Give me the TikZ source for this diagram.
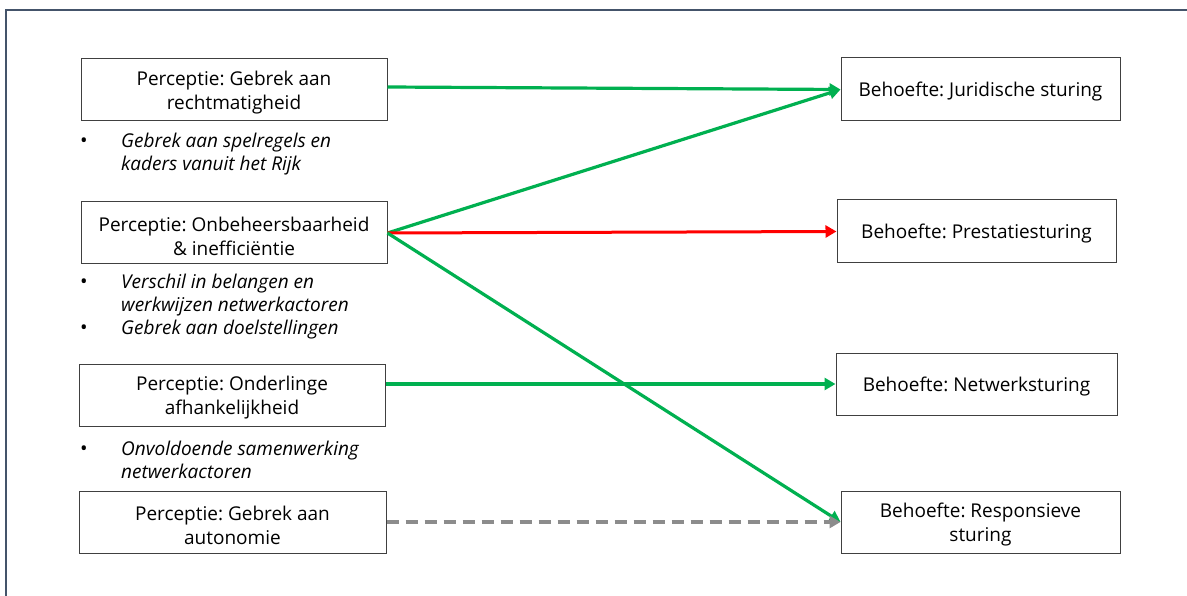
\documentclass[tikz,border=0pt]{standalone}
\usepackage{fontspec}
\setmainfont{Open Sans}
\usetikzlibrary{arrows.meta}
\definecolor{frameblue}{HTML}{44546A}
\definecolor{flowgreen}{HTML}{00B050}
\definecolor{flowred}{HTML}{FF0000}
\definecolor{flowgray}{HTML}{8C8C8C}
\tikzset{
  box/.style={draw=black!75, line width=1pt, minimum height=62pt, align=center,
    inner sep=0pt, font=\fontsize{19}{24}\selectfont,
    execute at begin node={\rule{0pt}{19.5pt}}},
  boxtext/.style={align=center, inner sep=0pt, font=\fontsize{19}{24}\selectfont},
  note/.style={anchor=north west, align=left, inner sep=0pt,
    font=\fontsize{19}{23}\selectfont\itshape},
  dot/.style={anchor=north west, inner sep=0pt, font=\fontsize{20}{23}\selectfont},
  link/.style={line width=3.2pt, -{Triangle[length=11pt,width=12pt]}},
}
\begin{document}
\frenchspacing
\begin{tikzpicture}[x=1pt,y=-1pt]
\useasboundingbox (0,0) rectangle (1187,596);
\fill[white] (0,0) rectangle (1187,596);
% outer frame
\draw[frameblue, line width=1.3pt] (1187,10) -- (6,10) -- (6,596);

% perception boxes (frame, then two-line caption)
\node[box, minimum width=306pt] (p1) at (234,90) {};
\node[boxtext] (p1t) at ([yshift=-3pt]p1.center) {Perceptie: Gebrek aan\\rechtmatigheid};
\node[box, minimum width=306pt] (p2) at (234,233) {};
\node[boxtext] (p2t) at ([yshift=-3pt]p2.center) {Perceptie: Onbeheersbaarheid\\\& inefficiëntie};
\node[box, minimum width=306pt] (p3) at (232,395) {};
\node[boxtext] (p3t) at ([yshift=-3pt]p3.center) {Perceptie: Onderlinge\\afhankelijkheid};
\node[box, minimum width=307pt] (p4) at (232.5,522) {};
\node[boxtext] (p4t) at ([yshift=-3pt]p4.center) {Perceptie: Gebrek aan\\autonomie};

% need boxes
\node[box, minimum width=279pt, minimum height=63pt] (b1) at (980.5,89.5) {Behoefte: Juridische sturing};
\node[box, minimum width=279pt, minimum height=63pt] (b2) at (976.5,231.5) {Behoefte: Prestatiesturing};
\node[box, minimum width=281pt, minimum height=62pt] (b3) at (976.5,384) {Behoefte: Netwerksturing};
\node[box, minimum width=279pt] (b4) at (980.5,522) {};
\node[boxtext] (b4t) at ([yshift=-3pt]b4.center) {Behoefte: Responsieve\\sturing};

% bullet notes
\node[dot] (d1) at (80,131) {\strut•};
\node[note] (n1) at (121,131) {\strut Gebrek aan spelregels en\\kaders vanuit het Rijk};
\node[dot] (d2a) at (80,272) {\strut•};
\node[dot] (d2b) at (80,318) {\strut•};
\node[note] (n2) at (121,272) {\strut Verschil in belangen en\\werkwijzen netwerkactoren\\Gebrek aan doelstellingen};
\node[dot] (d3) at (80,439) {\strut•};
\node[note] (n3) at (121,439) {\strut Onvoldoende samenwerking\\netwerkactoren};

% connectors
\draw[link, flowgreen] (p1.east) ++(0,-3) coordinate (s1) (s1) -- (b1.west);
\draw[link, flowgreen] (p2.east) -- (b1.west);
\draw[link, flowred, line width=3pt] (p2.east) -- (b2.west);
\draw[link, flowgreen] (p2.east) -- (b4.west);
\draw[link, flowgreen] (p3.east) ++(0,-11) coordinate (s3) (s3) -- (b3.west);
\draw[link, flowgray, dashed, dash pattern=on 12pt off 7pt] (p4.east) -- (b4.west);
\end{tikzpicture}
\end{document}
